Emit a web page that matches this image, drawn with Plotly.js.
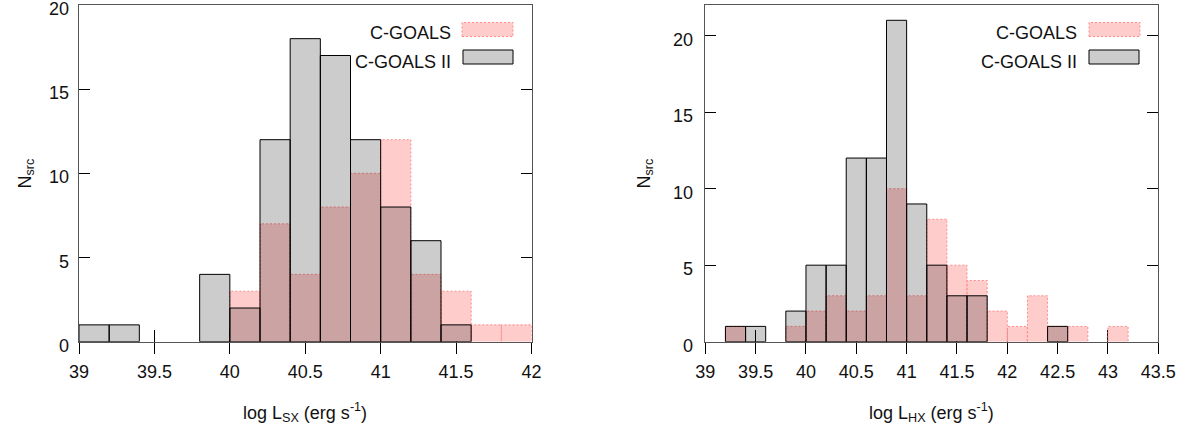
<!DOCTYPE html>
<html><head><meta charset="utf-8">
<script src="https://cdn.plot.ly/plotly-3.0.1.min.js"></script>
<style>html,body{margin:0;padding:0;background:#fff}#chart{width:1191px;height:432px}</style>
</head><body><div id="chart"></div>
<script>
// ---- data (bin left edges, bin width 0.2) ----
const binWidth = 0.2;
const sxBins    = [39.0, 39.2, 39.4, 39.6, 39.8, 40.0, 40.2, 40.4, 40.6, 40.8, 41.0, 41.2, 41.4, 41.6, 41.8];
const sxCgoals  = [0,    0,    0,    0,    0,    3,    7,    4,    8,    10,   12,   4,    3,    1,    1];
const sxCgoals2 = [1,    1,    0,    0,    4,    2,    12,   18,   17,   12,   8,    6,    1,    0,    0];

const hxBins    = [39.2, 39.4, 39.6, 39.8, 40.0, 40.2, 40.4, 40.6, 40.8, 41.0, 41.2, 41.4, 41.6, 41.8, 42.0, 42.2, 42.4, 42.6, 42.8, 43.0];
const hxCgoals  = [1,    0,    0,    1,    2,    3,    2,    3,    10,   3,    8,    5,    4,    2,    1,    3,    1,    1,    0,    1];
const hxCgoals2 = [1,    1,    0,    2,    5,    5,    12,   12,   21,   9,    5,    3,    3,    0,    0,    0,    1,    0,    0,    0];

const sxTickVals = [39, 39.5, 40, 40.5, 41, 41.5, 42];
const sxTickText = ['39', '39.5', '40', '40.5', '41', '41.5', '42'];
const hxTickVals = [39, 39.5, 40, 40.5, 41, 41.5, 42, 42.5, 43, 43.5];
const hxTickText = ['39', '39.5', '40', '40.5', '41', '41.5', '42', '42.5', '43', '43.5'];
const yTickVals  = [0, 5, 10, 15, 20];
const yTickText  = ['0', '5', '10', '15', '20'];
const seriesNames = ['C-GOALS', 'C-GOALS II'];
const xTitles = ['log L<sub>SX</sub> (erg s<sup>-1</sup>)', 'log L<sub>HX</sub> (erg s<sup>-1</sup>)'];
const yTitle = 'N<sub>src</sub>';

// ---- helpers ----
function nonzero(bins, counts) {
  const x = [], y = [];
  bins.forEach((b, i) => { if (counts[i] > 0) { x.push(b); y.push(counts[i]); } });
  return {x, y};
}
function outline(bins, counts) {
  const x = [], y = [];
  bins.forEach((b, i) => {
    const c = counts[i];
    if (c > 0) { x.push(b, b, b + binWidth, b + binWidth, null); y.push(0, c, c, 0, null); }
  });
  return {x, y};
}

const PINK = '#ffcccc', PINKLINE = '#ff8a8a', GREY = 'rgba(0,0,0,0.2)';
const FONT = {family: 'Liberation Sans, Arial, sans-serif', size: 18, color: '#111'};

function panelTraces(bins, c1, c2, xa, ya, xo, yo) {
  const p = nonzero(bins, c1), g = nonzero(bins, c2), o = outline(bins, c1);
  return [
    {type: 'bar', name: seriesNames[0], x: p.x, y: p.y, width: binWidth, offset: 0,
     xaxis: xa, yaxis: ya, marker: {color: PINK, line: {width: 0}}, hoverinfo: 'x+y'},
    {type: 'scatter', mode: 'lines', x: o.x, y: o.y, xaxis: xa, yaxis: ya, connectgaps: false,
     line: {color: PINKLINE, width: 1, dash: '2px,2px'}, hoverinfo: 'skip'},
    {type: 'bar', name: seriesNames[1], x: g.x, y: g.y, width: binWidth, offset: 0,
     xaxis: xo, yaxis: yo, marker: {color: GREY, line: {width: 1, color: '#000'}}, hoverinfo: 'x+y'}
  ];
}

const data = [
  ...panelTraces(sxBins, sxCgoals, sxCgoals2, 'x', 'y', 'x3', 'y3'),
  ...panelTraces(hxBins, hxCgoals, hxCgoals2, 'x2', 'y2', 'x4', 'y4')
];

const W = 1191, H = 432;
const domL = [79 / W, 531.5 / W], domR = [705.3 / W, 1158.3 / W];
const domY = [(H - 341.7) / H, (H - 5) / H];

function mainX(dom, range, vals, anchor) {
  return {domain: dom, range: range, anchor: anchor, showline: true, linecolor: '#555', linewidth: 1,
          mirror: true, ticks: 'inside', ticklen: 12, tickcolor: '#000', tickvals: vals,
          showticklabels: false, showgrid: false, zeroline: false, layer: 'below traces', fixedrange: true};
}
function overX(over, anchor, range, vals, text) {
  return {overlaying: over, anchor: anchor, side: 'bottom', range: range, showline: false,
          ticks: 'outside', ticklen: 11, tickcolor: '#000', tickvals: vals, ticktext: text,
          tickfont: FONT, ticklabelstandoff: 3, showgrid: false, zeroline: false, fixedrange: true};
}
function mainY(range, anchor) {
  return {domain: domY, range: range, anchor: anchor, showline: true, linecolor: '#555', linewidth: 1,
          mirror: 'ticks', ticks: 'inside', ticklen: 11, tickcolor: '#000', tickvals: yTickVals,
          showticklabels: false, showgrid: false, zeroline: false,
          layer: 'below traces', fixedrange: true};
}
function overY(over, anchor, range) {
  return {overlaying: over, anchor: anchor, range: range, visible: false, fixedrange: true};
}

function py(p) { return (H - p) / H; }
function px(p) { return p / W; }

// y tick labels (placed on the y scales, nudged down like the original)
function yLabels(yref, rightEdge) {
  return yTickVals.map((v, i) => ({text: yTickText[i], x: px(rightEdge), y: v, xref: 'paper', yref: yref,
    xanchor: 'right', yanchor: 'middle', yshift: -4, showarrow: false, font: FONT}));
}

const annotations = [
  ...yLabels('y', 70.5),
  ...yLabels('y2', 695),
  {text: xTitles[0], x: px(305), y: py(412), xref: 'paper', yref: 'paper', xanchor: 'center', yanchor: 'middle', showarrow: false, font: FONT},
  {text: xTitles[1], x: px(931.8), y: py(412), xref: 'paper', yref: 'paper', xanchor: 'center', yanchor: 'middle', showarrow: false, font: FONT},
  {text: yTitle, x: px(26), y: py(173.5), xref: 'paper', yref: 'paper', xanchor: 'center', yanchor: 'middle', textangle: -90, showarrow: false, font: FONT},
  {text: yTitle, x: px(645), y: py(173.5), xref: 'paper', yref: 'paper', xanchor: 'center', yanchor: 'middle', textangle: -90, showarrow: false, font: FONT},
  {text: seriesNames[0], x: px(452.5), y: py(33.5), xref: 'paper', yref: 'paper', xanchor: 'right', yanchor: 'middle', showarrow: false, font: FONT},
  {text: seriesNames[1], x: px(452.5), y: py(61.5), xref: 'paper', yref: 'paper', xanchor: 'right', yanchor: 'middle', showarrow: false, font: FONT},
  {text: seriesNames[0], x: px(1078.5), y: py(33.5), xref: 'paper', yref: 'paper', xanchor: 'right', yanchor: 'middle', showarrow: false, font: FONT},
  {text: seriesNames[1], x: px(1078.5), y: py(61.5), xref: 'paper', yref: 'paper', xanchor: 'right', yanchor: 'middle', showarrow: false, font: FONT}
];

function swatch(x0, x1, y0, y1, fill, line) {
  return {type: 'rect', xref: 'paper', yref: 'paper', x0: px(x0), x1: px(x1), y0: py(y1), y1: py(y0),
          fillcolor: fill, line: line, layer: 'above'};
}
const shapes = [
  swatch(462, 513, 22.5, 36.5, PINK, {color: PINKLINE, width: 1, dash: '2px,2px'}),
  swatch(463, 513, 50, 64, '#cccccc', {color: '#000', width: 1}),
  swatch(1089, 1140, 22.5, 36.5, PINK, {color: PINKLINE, width: 1, dash: '2px,2px'}),
  swatch(1089, 1139, 50, 64, '#cccccc', {color: '#000', width: 1})
];

const layout = {
  width: W, height: H, margin: {l: 0, r: 0, t: 0, b: 0},
  paper_bgcolor: '#fff', plot_bgcolor: 'rgba(0,0,0,0)',
  showlegend: false, barmode: 'overlay', font: FONT,
  xaxis: mainX(domL, [39, 42], sxTickVals, 'y'),
  yaxis: mainY([0, 20], 'x'),
  xaxis3: overX('x', 'y3', [39, 42], sxTickVals, sxTickText),
  yaxis3: overY('y', 'x3', [0, 20]),
  xaxis2: mainX(domR, [39, 43.5], hxTickVals, 'y2'),
  yaxis2: mainY([0, 22], 'x2'),
  xaxis4: overX('x2', 'y4', [39, 43.5], hxTickVals, hxTickText),
  yaxis4: overY('y2', 'x4', [0, 22]),
  annotations: annotations, shapes: shapes
};

Plotly.newPlot('chart', data, layout, {staticPlot: true, displayModeBar: false});
</script>
</body></html>
